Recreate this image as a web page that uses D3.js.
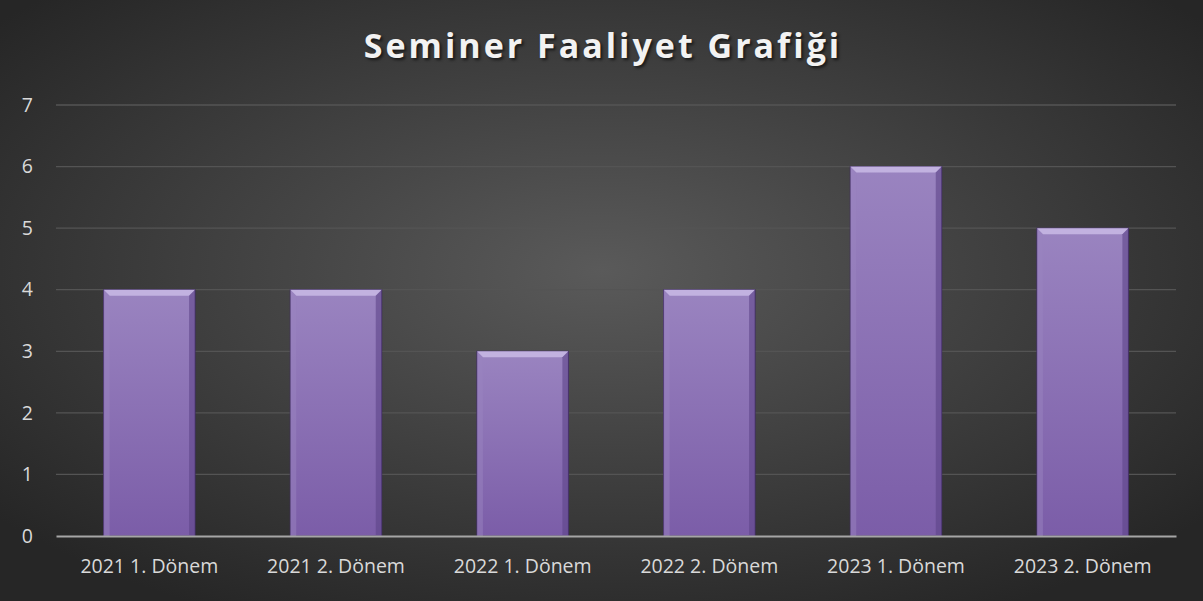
<!DOCTYPE html>
<html lang="tr">
<head>
<meta charset="utf-8">
<title>Seminer Faaliyet Grafiği</title>
<script src="https://d3js.org/d3.v7.min.js"></script>
<style>
body { margin: 0; background: #262626; }
svg { display: block; font-family: "Open Sans", "Noto Sans", sans-serif; }
.grid line { stroke: #545454; stroke-width: 1.3; }
.tick text { fill: #d9d9d9; font-size: 19.5px; font-family: "Open Sans", "Noto Sans", sans-serif; }
</style>
</head>
<body>
<div id="chart"></div>
<script>
// chart data
var categories = ["2021 1. Dönem", "2021 2. Dönem", "2022 1. Dönem", "2022 2. Dönem", "2023 1. Dönem", "2023 2. Dönem"];
var values = [4, 4, 3, 4, 6, 5];
var yTicks = [0, 1, 2, 3, 4, 5, 6, 7];
var title = "Seminer Faaliyet Grafiği";

var w = 1203, h = 601;
var margin = {top: 105, right: 27, bottom: 65, left: 56};

var svg = d3.select("#chart").append("svg")
    .attr("width", w)
    .attr("height", h);

var defs = svg.append("defs");

// background: dark radial glow
var bg = defs.append("radialGradient").attr("id", "bg")
    .attr("cx", "50%").attr("cy", "45%").attr("r", "65%");
bg.append("stop").attr("offset", "0%").attr("stop-color", "#5a5a5a");
bg.append("stop").attr("offset", "100%").attr("stop-color", "#262626");

var barGrad = defs.append("linearGradient").attr("id", "barGrad")
    .attr("x1", 0).attr("y1", 0).attr("x2", 0).attr("y2", 1);
barGrad.append("stop").attr("offset", "0%").attr("stop-color", "#9a84c0");
barGrad.append("stop").attr("offset", "100%").attr("stop-color", "#7b5da8");

svg.append("rect").attr("width", w).attr("height", h).attr("fill", "url(#bg)");

var x = d3.scaleBand()
    .domain(categories)
    .range([margin.left, w - margin.right])
    .paddingInner(0.51)
    .paddingOuter(0.255);

var y = d3.scaleLinear()
    .domain([0, 7])
    .range([h - margin.bottom, margin.top]);

// gridlines
svg.append("g").attr("class", "grid")
  .selectAll("line")
  .data(yTicks.filter(d => d > 0))
  .enter().append("line")
    .attr("x1", margin.left).attr("x2", w - margin.right)
    .attr("y1", d => y(d)).attr("y2", d => y(d));

// y axis labels
var yAxis = svg.append("g")
    .attr("transform", "translate(" + 38 + ",0)")
    .call(d3.axisLeft(y).tickValues(yTicks).tickFormat(d3.format("d")).tickSize(0).tickPadding(5));
yAxis.select(".domain").remove();

// bars
var bev = 6;
var bars = svg.append("g").selectAll("g")
  .data(values)
  .enter().append("g");

bars.append("rect")
    .attr("x", (d, i) => x(categories[i]))
    .attr("y", d => y(d))
    .attr("width", x.bandwidth())
    .attr("height", d => y(0) - y(d))
    .attr("fill", "url(#barGrad)")
    .attr("stroke", "#3f2c60")
    .attr("stroke-width", 1);

// bevel top highlight
bars.append("path")
    .attr("d", (d, i) => {
      var x0 = x(categories[i]), x1 = x0 + x.bandwidth(), y0 = y(d);
      return "M" + x0 + "," + y0 + "L" + x1 + "," + y0 +
             "L" + (x1 - bev) + "," + (y0 + bev) + "L" + (x0 + bev) + "," + (y0 + bev) + "Z";
    })
    .attr("fill", "#c2b2e0");

// bevel left side
bars.append("path")
    .attr("d", (d, i) => {
      var x0 = x(categories[i]), y0 = y(d), y1 = y(0);
      return "M" + x0 + "," + y0 + "L" + (x0 + bev) + "," + (y0 + bev) +
             "L" + (x0 + bev) + "," + y1 + "L" + x0 + "," + y1 + "Z";
    })
    .attr("fill", "#9a84c0").attr("opacity", 0.5);

// bevel right side
bars.append("path")
    .attr("d", (d, i) => {
      var x1 = x(categories[i]) + x.bandwidth(), y0 = y(d), y1 = y(0);
      return "M" + x1 + "," + y0 + "L" + (x1 - bev) + "," + (y0 + bev) +
             "L" + (x1 - bev) + "," + y1 + "L" + x1 + "," + y1 + "Z";
    })
    .attr("fill", "#5e4588").attr("opacity", 0.6);

// x axis
var xAxis = svg.append("g")
    .attr("transform", "translate(0," + y(0) + ")")
    .call(d3.axisBottom(x).tickSize(0).tickPadding(23));
xAxis.select(".domain").attr("stroke", "#a6a6a6").attr("stroke-width", 2);

// title
svg.append("text")
    .attr("x", 603).attr("y", 58)
    .attr("text-anchor", "middle")
    .attr("fill", "#f2f2f2")
    .attr("font-size", 34)
    .attr("font-weight", "bold")
    .attr("letter-spacing", 3)
    .style("text-shadow", "2px 2px 3px rgba(0,0,0,0.6)")
    .text(title);
</script>
</body>
</html>
